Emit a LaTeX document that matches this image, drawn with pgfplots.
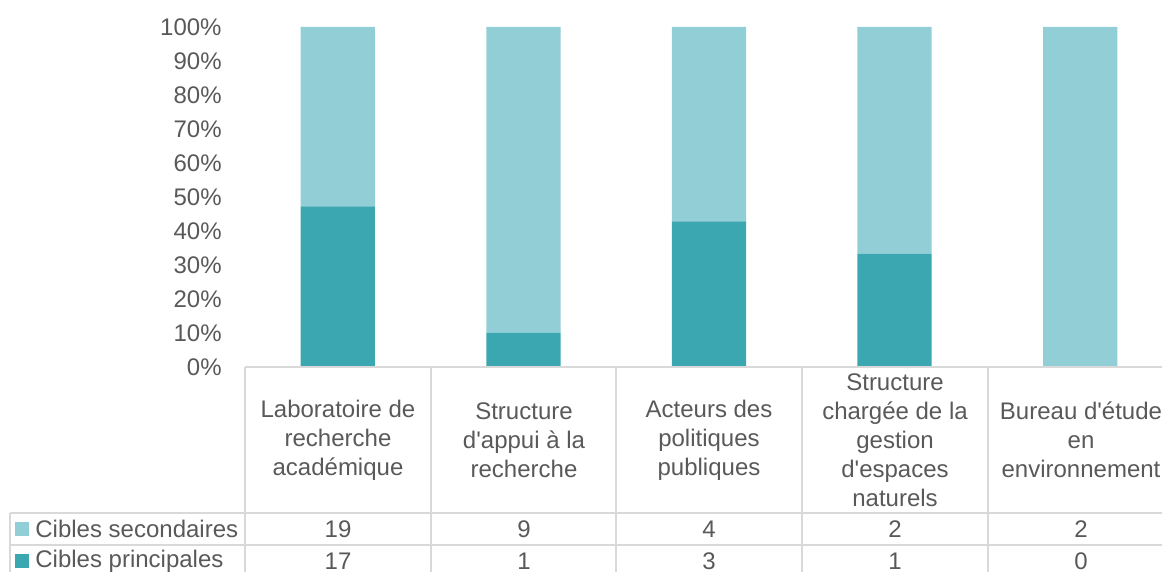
\documentclass[border=0pt]{standalone}
\usepackage{pgfplots}
\pgfplotsset{compat=1.18}
\usepackage{fontspec}
\setmainfont{Liberation Sans}
\definecolor{sec}{RGB}{146,206,214}
\definecolor{pri}{RGB}{59,167,176}
\definecolor{txt}{RGB}{89,89,89}
\definecolor{grd}{RGB}{217,217,217}
\newcommand{\q}{\textquotesingle}
\begin{document}
\fontsize{12}{14.5}\selectfont
\begin{tikzpicture}[x=0.5pt,y=0.5pt]
\path[use as bounding box, clip] (0,0) rectangle (1162,572);
\begin{axis}[at={(122.5pt,102.5pt)}, anchor=south west, scale only axis,
  width=464pt, height=170pt,
  xmin=-0.5, xmax=4.5, ymin=0, ymax=100,
  ybar stacked, bar width=0.4,
  axis line style={draw=none}, major tick length=0,
  xtick=\empty, ytick={0,10,...,100},
  yticklabel={\pgfmathprintnumber{\tick}\%},
  /pgf/number format/assume math mode=true,
  yticklabel style={font=\fontsize{12}{13}\selectfont, text=txt, inner sep=0pt, xshift=-11.5pt},
  clip=false]
\addplot[fill=pri, draw=none] coordinates {(0,47.22) (1,10) (2,42.86) (3,33.33) (4,0)};
\addplot[fill=sec, draw=none] coordinates {(0,52.78) (1,90) (2,57.14) (3,66.67) (4,100)};
\end{axis}
% table grid
\begin{scope}[draw=grd, line width=0.75pt]
\draw (245,205) -- (1162,205);
\draw (10,59) -- (1162,59);
\draw (10,27) -- (1162,27);
\foreach \x in {245,431,616,802,988} \draw (\x,205) -- (\x,0);
\draw (10,59) -- (10,0);
\end{scope}
\begin{scope}[every node/.style={text=txt, align=center, inner sep=0pt}]
\node at (338,132) {Laboratoire de\\recherche\\académique};
\node at (524,132) {Structure\\d\q appui à la\\recherche};
\node at (709,132) {Acteurs des\\politiques\\publiques};
\node at (895,132) {Structure\\chargée de la\\gestion\\d\q espaces\\naturels};
\node at (1081,132) {Bureau d\q étude\\en\\environnement};
\node at (338,43) {19}; \node at (524,43) {9}; \node at (709,43) {4}; \node at (895,43) {2}; \node at (1081,43) {2};
\node at (338,11) {17}; \node at (524,11) {1}; \node at (709,11) {3}; \node at (895,11) {1}; \node at (1081,11) {0};
\node[anchor=west] at (35,43) {Cibles secondaires};
\node[anchor=west] at (35,11) {Cibles principales};
\end{scope}
\fill[sec] (15,36) rectangle (29,50);
\fill[pri] (15,4) rectangle (29,18);
\end{tikzpicture}
\end{document}
